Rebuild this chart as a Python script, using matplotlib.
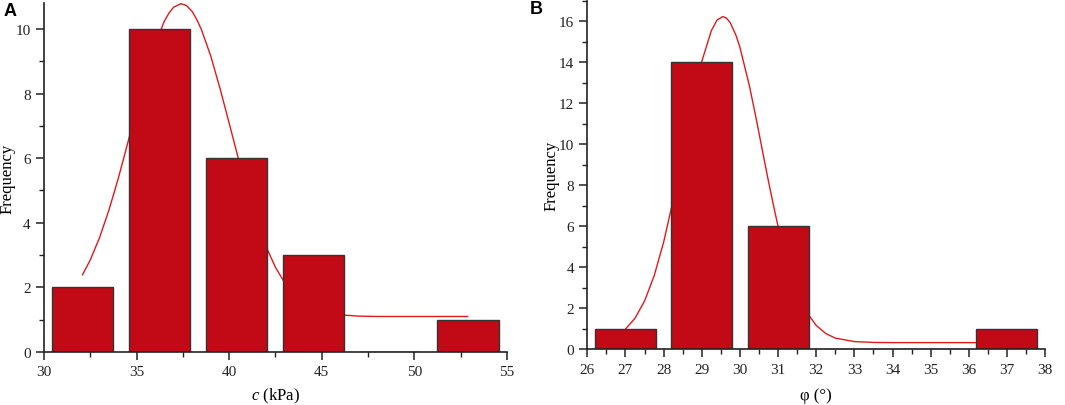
import matplotlib
matplotlib.use("Agg")
import matplotlib.pyplot as plt
from matplotlib.ticker import MultipleLocator

plt.rcParams["font.family"] = ["Liberation Serif", "DejaVu Serif"]
plt.rcParams["mathtext.fontset"] = "custom"
plt.rcParams["mathtext.it"] = "Liberation Serif:italic"
plt.rcParams["mathtext.rm"] = "Liberation Serif"

# panel A: cohesion c (kPa)
c_centers = [32.08, 36.24, 40.40, 44.56, 48.72, 52.88]
c_counts = [2, 10, 6, 3, 0, 1]
c_curve_x = [32.08, 32.5, 33.0, 33.5, 34.0, 34.5, 35.0, 35.5, 36.0, 36.5, 36.75, 37.0,
             37.4, 37.7, 38.0, 38.25, 38.5, 39.0, 39.5, 40.0, 40.5, 41.0, 41.5, 42.0,
             42.5, 43.0, 43.5, 44.0, 44.5, 45.0, 45.5, 46.0, 47.0, 48.0, 52.88]
c_curve_y = [2.39, 2.85, 3.54, 4.38, 5.35, 6.42, 7.53, 8.59, 9.52, 10.24, 10.49, 10.67,
             10.78, 10.72, 10.54, 10.29, 9.98, 9.17, 8.17, 7.08, 5.98, 4.95, 4.02, 3.25,
             2.62, 2.14, 1.78, 1.54, 1.37, 1.26, 1.19, 1.15, 1.11, 1.10, 1.10]

# panel B: friction angle phi (deg)
phi_centers = [27, 29, 31, 33, 35, 37]
phi_counts = [1, 14, 6, 0, 0, 1]
phi_curve_x = [27.0, 27.25, 27.5, 27.75, 28.0, 28.25, 28.5, 28.75, 28.9, 29.0, 29.25,
               29.4, 29.55, 29.65, 29.75, 29.9, 30.0, 30.25, 30.4, 30.5, 30.6, 30.75,
               30.9, 31.0, 31.25, 31.5, 31.75, 32.0, 32.25, 32.5, 33.0, 33.5, 34.0, 37.0]
phi_curve_y = [0.99, 1.52, 2.36, 3.58, 5.23, 7.28, 9.59, 11.95, 13.26, 14.04, 15.54,
               16.06, 16.23, 16.15, 15.92, 15.30, 14.73, 12.84, 11.49, 10.55, 9.59, 8.18,
               6.84, 6.00, 4.19, 2.80, 1.81, 1.17, 0.775, 0.55, 0.38, 0.34, 0.33, 0.33]

bar_color = "#c20a16"
edge_color = "#333333"
line_color = "#e0191c"


def draw_panel(ax, centers, counts, width, cx, cy, xlim, ylim, xmajor, xminor, xlabel, xlab_y):
    ax.plot(cx, cy, color=line_color, lw=1.0, zorder=1)
    ax.bar(centers, counts, width=width, color=bar_color, edgecolor=edge_color,
           linewidth=1.0, zorder=2)
    ax.set_xlim(*xlim)
    ax.set_ylim(*ylim)
    ax.xaxis.set_major_locator(MultipleLocator(xmajor))
    ax.xaxis.set_minor_locator(MultipleLocator(xminor))
    ax.yaxis.set_major_locator(MultipleLocator(2))
    ax.yaxis.set_minor_locator(MultipleLocator(1))
    for s in ["top", "right"]:
        ax.spines[s].set_visible(False)
    for s in ["left", "bottom"]:
        ax.spines[s].set_linewidth(1.2)
        ax.spines[s].set_color("#222222")
    ax.tick_params(which="major", direction="out", length=6, width=1.1,
                   labelsize=11, colors="#222222")
    ax.tick_params(which="minor", direction="out", length=3.5, width=1.0, colors="#222222")
    ax.set_ylabel("Frequency", fontsize=12, va="center")
    ax.yaxis.set_label_coords(-0.078, 0.5)
    ax.set_xlabel(xlabel, fontsize=12, va="center")
    ax.xaxis.set_label_coords(0.5, xlab_y)


fig = plt.figure(figsize=(10.65, 4.06), dpi=100)
ax1 = fig.add_axes([0.0413, 0.1305, 0.4347, 0.8596])
ax2 = fig.add_axes([0.5515, 0.137, 0.4298, 0.8586])

draw_panel(ax1, c_centers, c_counts, 3.33, c_curve_x, c_curve_y, (30, 55), (0, 10.8),
           5, 2.5, "$c$ (kPa)", -0.124)
draw_panel(ax2, phi_centers, phi_counts, 1.6, phi_curve_x, phi_curve_y, (26, 38), (0, 17),
           1, 0.5, "φ (°)", -0.132)

fig.text(0.003, 0.992, "A", fontsize=13, fontweight="bold", family="Liberation Sans",
         va="top", ha="left")
fig.text(0.4975, 0.997, "B", fontsize=13, fontweight="bold", family="Liberation Sans",
         va="top", ha="left")

fig.savefig("out.png", dpi=100)
